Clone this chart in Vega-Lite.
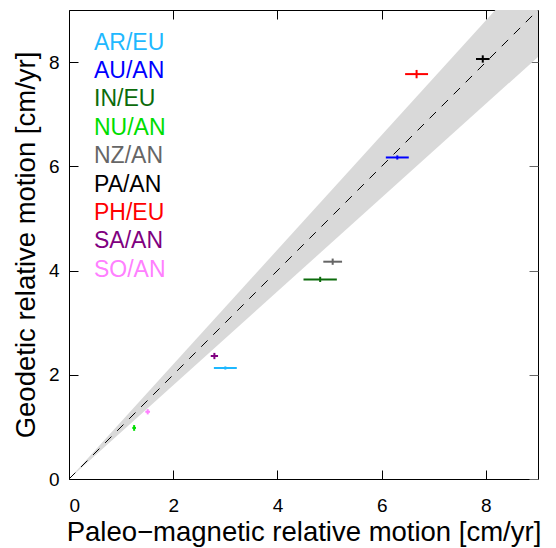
{
  "$schema": "https://vega.github.io/schema/vega-lite/v6.json",
  "width": 469,
  "height": 469,
  "padding": {"left": 12, "top": 9, "right": 5, "bottom": 5},
  "config": {
    "font": "Liberation Sans",
    "view": {"stroke": "#000", "strokeWidth": 1},
    "axis": {
      "domain": false, "grid": false, "tickSize": -9, "tickColor": "#000", "tickWidth": 1,
      "labelFontSize": 19, "labelColor": "#000", "titleFontSize": 27.5, "titleFontWeight": "normal",
      "titleColor": "#000", "labelFont": "Liberation Sans", "titleFont": "Liberation Sans"
    }
  },
  "datasets": {
    "band": [
      {"x": 0, "lo": 0, "mid": 0, "hi": 0},
      {"x": 9, "lo": 8.1, "mid": 9, "hi": 9.9}
    ],
    "plates": [
      {"plate": "AR/EU", "x": 3.0, "y": 2.13, "xlo": 2.78, "xhi": 3.22, "ylo": 2.10, "yhi": 2.16},
      {"plate": "AU/AN", "x": 6.3, "y": 6.17, "xlo": 6.08, "xhi": 6.52, "ylo": 6.13, "yhi": 6.21},
      {"plate": "IN/EU", "x": 4.82, "y": 3.83, "xlo": 4.50, "xhi": 5.14, "ylo": 3.78, "yhi": 3.88},
      {"plate": "NU/AN", "x": 1.25, "y": 0.98, "xlo": 1.215, "xhi": 1.285, "ylo": 0.925, "yhi": 1.035},
      {"plate": "NZ/AN", "x": 5.06, "y": 4.17, "xlo": 4.88, "xhi": 5.24, "ylo": 4.11, "yhi": 4.23},
      {"plate": "PA/AN", "x": 7.94, "y": 8.06, "xlo": 7.81, "xhi": 8.07, "ylo": 7.99, "yhi": 8.13},
      {"plate": "PH/EU", "x": 6.67, "y": 7.77, "xlo": 6.45, "xhi": 6.89, "ylo": 7.69, "yhi": 7.85},
      {"plate": "SA/AN", "x": 2.79, "y": 2.36, "xlo": 2.72, "xhi": 2.86, "ylo": 2.30, "yhi": 2.42},
      {"plate": "SO/AN", "x": 1.51, "y": 1.29, "xlo": 1.465, "xhi": 1.555, "ylo": 1.24, "yhi": 1.34}
    ]
  },
  "layer": [
    {
      "data": {"name": "band"},
      "mark": {"type": "area", "color": "#d9d9d9", "clip": true},
      "encoding": {
        "x": {"field": "x", "type": "quantitative", "scale": {"domain": [0, 9], "nice": false},
              "axis": {"orient": "bottom", "values": [0, 2, 4, 6, 8], "labelPadding": 26, "title": "Paleo\u2212magnetic relative motion [cm/yr]", "titlePadding": 3}},
        "y": {"field": "lo", "type": "quantitative", "scale": {"domain": [0, 9], "nice": false},
              "axis": {"orient": "left", "values": [0, 2, 4, 6, 8], "labelPadding": 19, "title": "Geodetic relative motion [cm/yr]", "titlePadding": 8}},
        "y2": {"field": "hi"}
      }
    },
    {
      "data": {"name": "band"},
      "mark": {"type": "line", "color": "#000", "strokeWidth": 1, "strokeDash": [9, 8], "clip": true},
      "encoding": {
        "x": {"field": "x", "type": "quantitative",
              "axis": {"orient": "top", "values": [0, 2, 4, 6, 8], "labels": false, "title": null}},
        "y": {"field": "mid", "type": "quantitative",
              "axis": {"orient": "right", "values": [0, 2, 4, 6, 8], "labels": false, "title": null, "tickColor": "#666"}}
      }
    },
    {
      "data": {"name": "plates"},
      "mark": {"type": "rule", "strokeWidth": 2},
      "encoding": {
        "x": {"field": "xlo", "type": "quantitative", "axis": null},
        "x2": {"field": "xhi"},
        "y": {"field": "y", "type": "quantitative", "axis": null},
        "color": {
          "field": "plate", "type": "nominal",
          "scale": {
            "domain": ["AR/EU", "AU/AN", "IN/EU", "NU/AN", "NZ/AN", "PA/AN", "PH/EU", "SA/AN", "SO/AN"],
            "range": ["#1EB8FF", "#0000FF", "#0B6B0B", "#00DD00", "#666666", "#000000", "#FF0000", "#800080", "#FF80FF"]
          },
          "legend": {
            "orient": "none", "legendX": 2, "legendY": 21, "title": null, "padding": 0,
            "symbolSize": 0, "symbolOpacity": 0, "symbolStrokeWidth": 0, "labelOffset": 0,
            "labelFontSize": 23, "labelFont": "Liberation Sans", "rowPadding": 4.4,
            "labelColor": {"expr": "scale('color', datum.value)"}
          }
        }
      }
    },
    {
      "data": {"name": "plates"},
      "mark": {"type": "rule", "strokeWidth": 2},
      "encoding": {
        "x": {"field": "x", "type": "quantitative", "axis": null},
        "y": {"field": "ylo", "type": "quantitative", "axis": null},
        "y2": {"field": "yhi"},
        "color": {"field": "plate", "type": "nominal"}
      }
    }
  ],
  "resolve": {"axis": {"x": "independent", "y": "independent"}}
}
